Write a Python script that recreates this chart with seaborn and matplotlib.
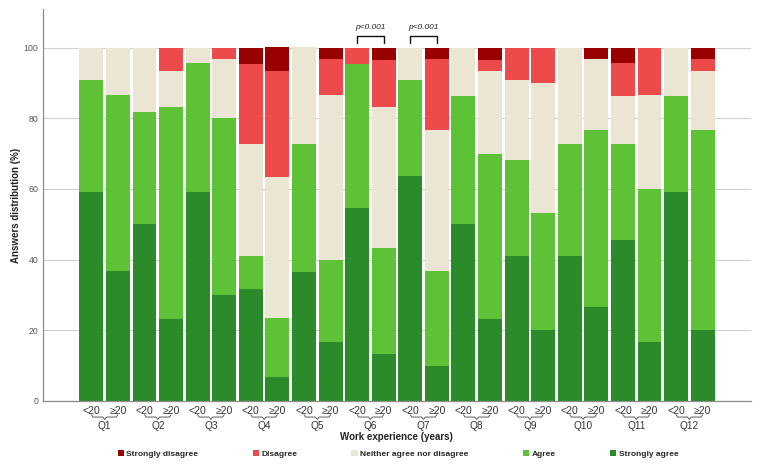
import matplotlib
matplotlib.use("Agg")
import matplotlib.pyplot as plt
import matplotlib.transforms as mtransforms
import numpy as np
import pandas as pd
import seaborn as sns

# === data (percent of answers per bar) ===
QUESTIONS = ["Q%d" % i for i in range(1, 13)]
GROUPS = ["<20", "\u226520"]
CATEGORIES = ["Strongly disagree", "Disagree", "Neither agree nor disagree", "Agree", "Strongly agree"]

strongly_agree = [59.1, 36.7, 50.0, 23.3, 59.1, 30.0, 31.8, 6.7, 36.4, 16.7, 54.5, 13.3,
                  63.6, 10.0, 50.0, 23.3, 40.9, 20.0, 40.9, 26.7, 45.5, 16.7, 59.1, 20.0]
agree = [31.8, 50.0, 31.8, 60.0, 36.4, 50.0, 9.1, 16.7, 36.4, 23.3, 40.9, 30.0,
         27.3, 26.7, 36.4, 46.7, 27.3, 33.3, 31.8, 50.0, 27.3, 43.3, 27.3, 56.7]
neither = [9.1, 13.3, 18.2, 10.0, 4.5, 16.7, 31.8, 40.0, 27.3, 46.7, 0.0, 40.0,
           9.1, 40.0, 13.6, 23.3, 22.7, 36.7, 27.3, 20.0, 13.6, 26.7, 13.6, 16.7]
disagree = [0.0, 0.0, 0.0, 6.7, 0.0, 3.3, 22.7, 30.0, 0.0, 10.0, 4.5, 13.3,
            0.0, 20.0, 0.0, 3.3, 9.1, 10.0, 0.0, 0.0, 9.1, 13.3, 0.0, 3.3]
strongly_disagree = [0.0, 0.0, 0.0, 0.0, 0.0, 0.0, 4.5, 6.7, 0.0, 3.3, 0.0, 3.3,
                     0.0, 3.3, 0.0, 3.3, 0.0, 0.0, 0.0, 3.3, 4.5, 0.0, 0.0, 3.3]

# significant pairs (question index) and their label
SIG_QUESTIONS = [5, 6]
SIG_LABEL = "p<0.001"

COLORS = {
    "Strongly disagree": "#990000",
    "Disagree": "#ED4B4B",
    "Neither agree nor disagree": "#EBE5D3",
    "Agree": "#5EC236",
    "Strongly agree": "#2B8A2A",
}

# === build table ===
bar_ids = ["%s %s" % (q, g) for q in QUESTIONS for g in GROUPS]
df = pd.DataFrame({
    "bar": bar_ids,
    "Strongly agree": strongly_agree,
    "Agree": agree,
    "Neither agree nor disagree": neither,
    "Disagree": disagree,
    "Strongly disagree": strongly_disagree,
})
# cumulative tops, stacked from the bottom (strongly agree) upwards
stack_order = CATEGORIES[::-1]
cum = df[stack_order].cumsum(axis=1)

# === drawing ===
sns.set_style("white")
plt.rcParams["font.family"] = ["Liberation Sans Narrow", "Liberation Sans", "DejaVu Sans"]

fig = plt.figure(figsize=(7.61, 4.68), dpi=100)
ax = fig.add_axes([0.0561, 0.1432, 0.9308, 0.8376])

# draw the tallest cumulative first so lower segments overlay it
for cat in CATEGORIES:
    sns.barplot(x=df["bar"], y=cum[cat], order=bar_ids, color=COLORS[cat],
                saturation=1, width=0.9, errorbar=None, linewidth=0,
                label=cat, ax=ax, zorder=2)

handles, labels = ax.get_legend_handles_labels()
if ax.get_legend() is not None:
    ax.get_legend().remove()

ax.set_xlim(-1.83, 24.82)
ax.set_ylim(0, 110.9)
ax.set_yticks(np.arange(0, 101, 20))
ax.yaxis.grid(True, color="#cfcfcf", linewidth=0.8, zorder=0)
ax.set_axisbelow(True)
ax.tick_params(axis="y", length=0, pad=3, labelsize=6.3, labelcolor="#555555")
ax.tick_params(axis="x", length=0, pad=3.5, labelsize=7.5, labelcolor="#333333")
ax.set_xticks(range(len(bar_ids)))
ax.set_xticklabels([g for q in QUESTIONS for g in GROUPS])

for side in ["top", "right"]:
    ax.spines[side].set_visible(False)
for side in ["left", "bottom"]:
    ax.spines[side].set_color("#8c8c8c")
    ax.spines[side].set_linewidth(0.9)

ax.set_ylabel("Answers distribution (%)", fontsize=7, fontweight="bold", color="#222222")
ax.yaxis.set_label_coords(-0.030, 0.5)
ax.set_xlabel("Work experience (years)", fontsize=7, fontweight="bold", color="#222222")
ax.xaxis.set_label_coords(0.5, -0.080)

# braces + question labels under each pair
trans = mtransforms.blended_transform_factory(ax.transData, ax.transAxes)
for i, q in enumerate(QUESTIONS):
    x0, x1 = 2 * i, 2 * i + 1
    xm = (x0 + x1) / 2
    bx = [x0, x0 + 0.06, xm - 0.07, xm, xm + 0.07, x1 - 0.06, x1]
    by = [-0.035, -0.041, -0.041, -0.047, -0.041, -0.041, -0.035]
    ax.plot(bx, by, transform=trans, color="#444444", linewidth=0.6, clip_on=False)
    ax.text(xm, -0.063, q, transform=trans, ha="center", va="center", fontsize=7.3, color="#333333")

# significance brackets
for qi in SIG_QUESTIONS:
    x0, x1 = 2 * qi, 2 * qi + 1
    ax.plot([x0, x0, x1, x1], [101.2, 103.2, 103.2, 101.2], color="#111111", linewidth=1.0, clip_on=False)
    ax.text((x0 + x1) / 2, 105.6, SIG_LABEL, ha="center", va="center", fontsize=6,
            fontstyle="italic", color="#222222")

fig.legend(handles, labels, loc="center", bbox_to_anchor=(398 / 761, 1 - 454 / 468), ncol=5,
           frameon=False, handlelength=0.75, handleheight=0.75, handletextpad=0.3,
           columnspacing=6.5, prop={"weight": "bold", "size": 6})

fig.savefig("out.png", dpi=100)
